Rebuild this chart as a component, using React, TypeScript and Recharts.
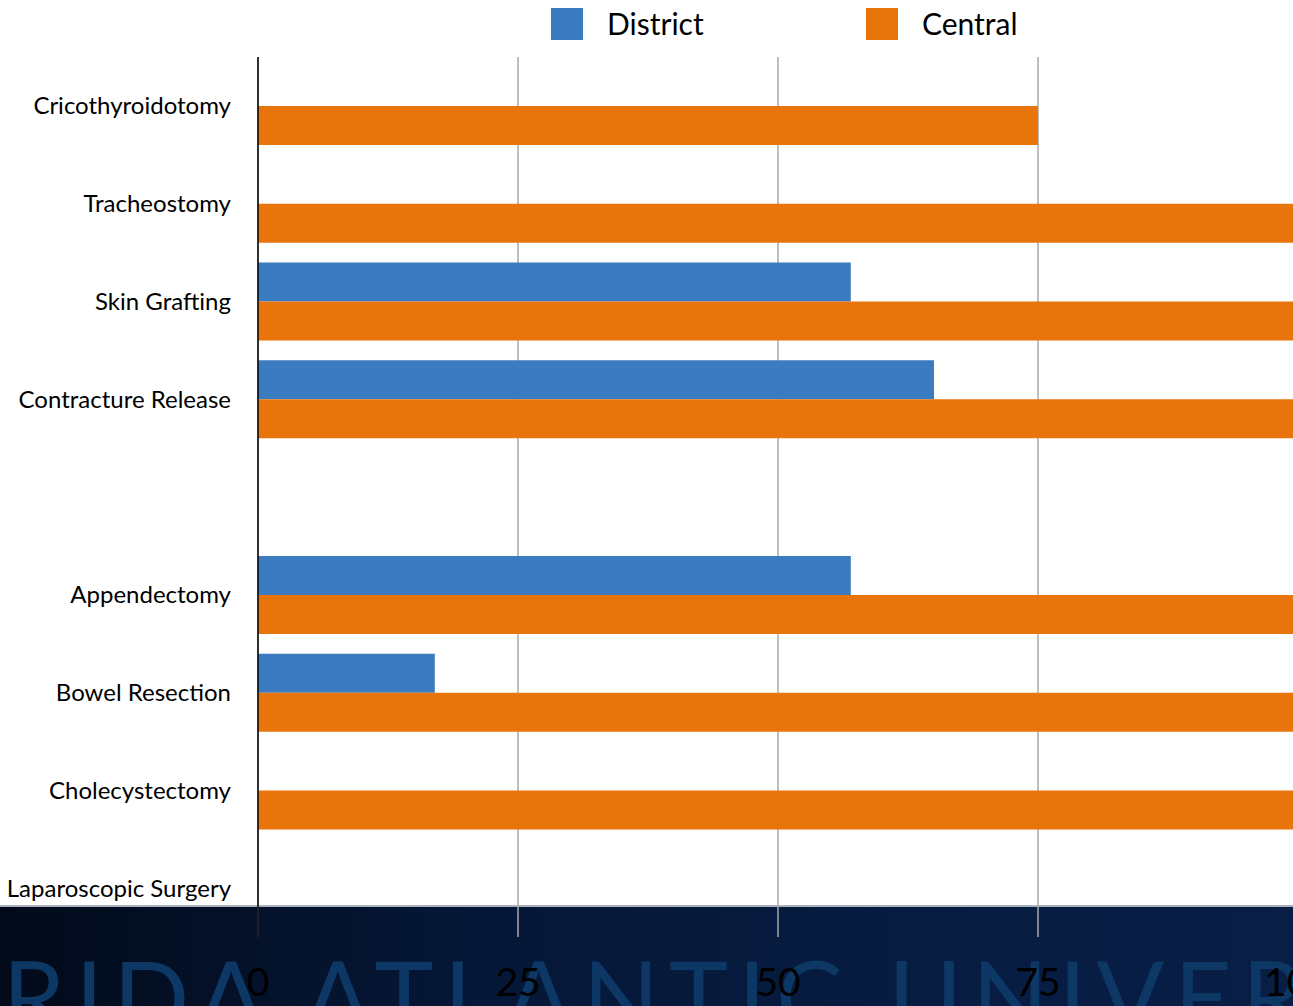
import React from 'react';
import { BarChart, Bar, XAxis, YAxis, CartesianGrid, Legend } from 'recharts';

const categories = [
  'Cricothyroidotomy',
  'Tracheostomy',
  'Skin Grafting',
  'Contracture Release',
  ' ',
  'Appendectomy',
  'Bowel Resection',
  'Cholecystectomy',
  'Laparoscopic Surgery',
];
const districtValues = [0, 0, 57, 65, 0, 57, 17, 0, 0];
const centralValues = [75, 100, 100, 100, 0, 100, 100, 100, 0];
const xTicks = [0, 25, 50, 75, 100];
const seriesNames = ['District', 'Central'];
const seriesColors = ['#3b7bbf', '#e8750c'];

const data = categories.map((name, i) => ({
  name,
  District: districtValues[i],
  Central: centralValues[i],
}));

const FONT = 'Lato, "Open Sans", sans-serif';

const LegendContent = () => (
  <div style={{ position: 'relative', width: 1293, height: 57, fontFamily: FONT }}>
    {seriesNames.map((n, i) => {
      const left = i === 0 ? 551 : 866;
      return (
        <div key={n}>
          <div
            style={{
              position: 'absolute',
              left,
              top: 8,
              width: 32,
              height: 32,
              background: seriesColors[i],
            }}
          />
          <div
            style={{
              position: 'absolute',
              left: left + 56,
              top: 3,
              fontSize: 30,
              lineHeight: '40px',
              color: '#000',
            }}
          >
            {n}
          </div>
        </div>
      );
    })}
  </div>
);

export default function App() {
  return (
    <div
      style={{
        position: 'absolute',
        left: 0,
        top: 0,
        width: 1293,
        height: 1006,
        overflow: 'hidden',
        background: '#ffffff',
        fontFamily: FONT,
      }}
    >
      <div
        style={{
          position: 'absolute',
          left: 0,
          top: 905,
          width: 1293,
          height: 101,
          borderTop: '2px solid #a9b1bd',
          background: 'linear-gradient(90deg, #020a1a 0%, #051736 35%, #071c41 70%, #081e45 100%)',
          overflow: 'hidden',
        }}
      >
        <div
          style={{
            position: 'absolute',
            left: -212,
            top: 38,
            fontSize: 100,
            lineHeight: '100px',
            letterSpacing: 10,
            whiteSpace: 'nowrap',
            color: '#0d3866',
            fontFamily: FONT,
          }}
        >
          FLORIDA ATLANTIC UNIVERSITY
        </div>
      </div>
      <div style={{ position: 'absolute', left: 0, top: 0 }}>
        <BarChart
          width={1320}
          height={1006}
          data={data}
          layout="vertical"
          margin={{ top: 0, right: 22, bottom: 0, left: 0 }}
          barSize={39}
          barGap={0}
        >
          <Legend
            verticalAlign="top"
            align="left"
            wrapperStyle={{ left: 0, top: 0, width: 1293, height: 57 }}
            content={<LegendContent />}
          />
          <CartesianGrid horizontal={false} vertical={true} stroke="#aaaaaa" strokeWidth={1.5} />
          <XAxis
            type="number"
            domain={[0, 100]}
            ticks={xTicks}
            axisLine={false}
            tickLine={false}
            tickSize={6}
            tickMargin={25}
            height={69}
            interval={0}
            tick={{ fill: '#000000', fontSize: 39, fontFamily: FONT }}
          />
          <YAxis
            type="category"
            dataKey="name"
            width={258}
            axisLine={{ stroke: '#000000', strokeWidth: 1.5 }}
            tickLine={false}
            tickSize={6}
            tickMargin={21}
            interval={0}
            tick={{ fill: '#000000', fontSize: 24, fontFamily: FONT }}
          />
          <Bar dataKey="District" fill={seriesColors[0]} isAnimationActive={false} />
          <Bar dataKey="Central" fill={seriesColors[1]} isAnimationActive={false} />
        </BarChart>
      </div>
    </div>
  );
}
